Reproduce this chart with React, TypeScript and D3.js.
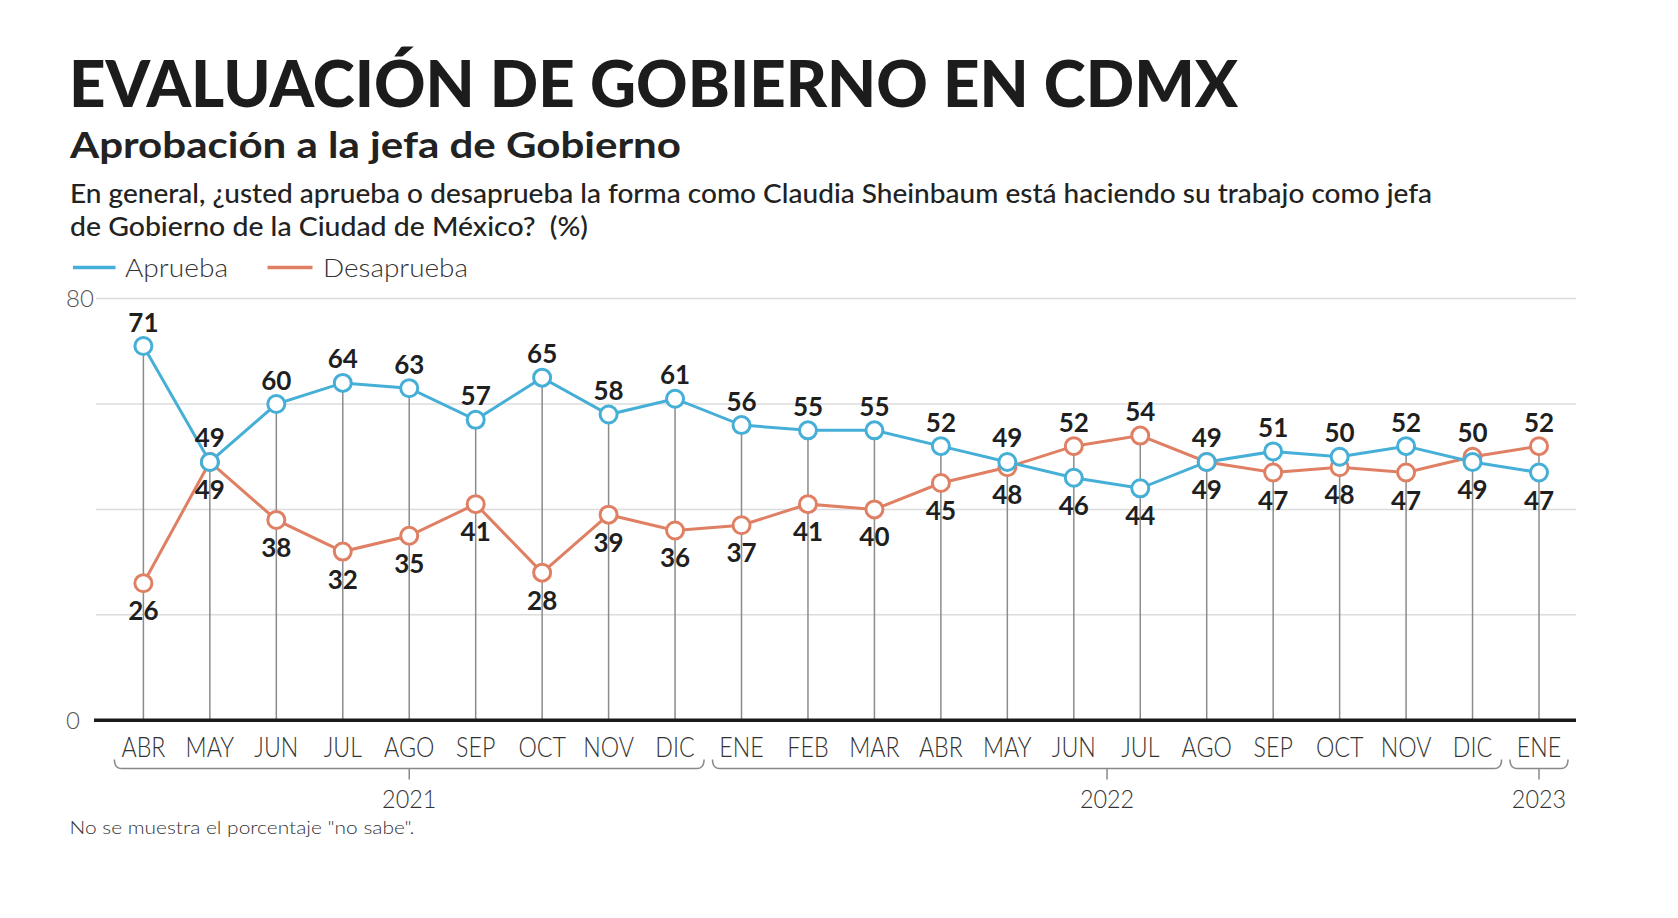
import React from "react";
import * as d3 from "d3";

const months = ["ABR","MAY","JUN","JUL","AGO","SEP","OCT","NOV","DIC","ENE","FEB","MAR","ABR","MAY","JUN","JUL","AGO","SEP","OCT","NOV","DIC","ENE"];
const aprueba = [71,49,60,64,63,57,65,58,61,56,55,55,52,49,46,44,49,51,50,52,49,47];
const desaprueba = [26,49,38,32,35,41,28,39,36,37,41,40,45,48,52,54,49,47,48,47,50,52];
const yearLabels = ["2021","2022","2023"];
const yearMonthCounts = [9,12,1];
const yTicks = [0,20,40,60,80];
const yLabelTicks = [0,80];

const BLUE = "#45afd7";
const ORANGE = "#df8064";
const FONT = "Lato, 'Open Sans', sans-serif";

export default function App() {
  const W = 1678, H = 918;
  const x = d3.scalePoint<number>().domain(months.map((_, i) => i)).range([143.4, 1539]);
  const y = d3.scaleLinear().domain([0, 80]).range([720.2, 298.6]);
  const gridX0 = 96, gridX1 = 1576;

  const line = d3.line<number>().x((_, i) => x(i)!).y(d => y(d));

  const groups: { label: string; i0: number; i1: number }[] = [];
  let acc = 0;
  yearLabels.forEach((lab, k) => {
    groups.push({ label: lab, i0: acc, i1: acc + yearMonthCounts[k] - 1 });
    acc += yearMonthCounts[k];
  });

  const by = 768.5;
  const r = 8.5;

  return (
    <svg width={W} height={H} style={{ position: "absolute", left: 0, top: 0, background: "#fff" }} fontFamily={FONT}>
      <rect x={0} y={0} width={W} height={H} fill="#fff" />
      <text x={69} y={107} fontSize={64} fontWeight={900} fill="#1c1c1c" textLength={1169} lengthAdjust="spacingAndGlyphs">EVALUACIÓN DE GOBIERNO EN CDMX</text>
      <text x={70} y={158} fontSize={37} fontWeight={700} fill="#222" textLength={611} lengthAdjust="spacingAndGlyphs">Aprobación a la jefa de Gobierno</text>
      <text x={70} y={203} fontSize={26} fontWeight={500} fill="#222" textLength={1362} lengthAdjust="spacingAndGlyphs">En general, ¿usted aprueba o desaprueba la forma como Claudia Sheinbaum está haciendo su trabajo como jefa</text>
      <text x={70} y={235.5} fontSize={26} fontWeight={500} fill="#222" textLength={518} lengthAdjust="spacingAndGlyphs" style={{ whiteSpace: "pre" }}>de Gobierno de la Ciudad de México?  (%)</text>

      <line x1={73} x2={115.5} y1={267.5} y2={267.5} stroke={BLUE} strokeWidth={3.5} />
      <text x={125} y={276.5} fontSize={25} fontWeight={300} fill="#333" textLength={103} lengthAdjust="spacingAndGlyphs">Aprueba</text>
      <line x1={267.5} x2={312.5} y1={267.5} y2={267.5} stroke={ORANGE} strokeWidth={3.5} />
      <text x={323} y={276.5} fontSize={25} fontWeight={300} fill="#333" textLength={145} lengthAdjust="spacingAndGlyphs">Desaprueba</text>

      {yTicks.filter(t => t > 0).map(t => (
        <line key={t} x1={gridX0} x2={gridX1} y1={y(t)} y2={y(t)} stroke="#dcdcdc" strokeWidth={1.5} />
      ))}
      {yLabelTicks.map(t => (
        <text key={t} x={66} y={y(t) + 8.5} fontSize={24} fontWeight={300} fill="#555" textAnchor="start">{t}</text>
      ))}

      {months.map((_, i) => (
        <line key={i} x1={x(i)} x2={x(i)} y1={y(Math.max(aprueba[i], desaprueba[i]))} y2={y(0)} stroke="#8c8c8c" strokeWidth={1.5} />
      ))}

      <line x1={94} x2={gridX1} y1={y(0)} y2={y(0)} stroke="#1a1a1a" strokeWidth={3.5} />

      <path d={line(desaprueba)!} fill="none" stroke={ORANGE} strokeWidth={3} />
      <path d={line(aprueba)!} fill="none" stroke={BLUE} strokeWidth={3} />
      {desaprueba.map((v, i) => (
        <circle key={"o" + i} cx={x(i)} cy={y(v)} r={r} fill="#fff" stroke={ORANGE} strokeWidth={3} />
      ))}
      {aprueba.map((v, i) => (
        <circle key={"b" + i} cx={x(i)} cy={y(v)} r={r} fill="#fff" stroke={BLUE} strokeWidth={3} />
      ))}

      {months.map((_, i) => {
        const a = aprueba[i], d = desaprueba[i];
        const hi = Math.max(a, d), lo = Math.min(a, d);
        return (
          <g key={"l" + i} fontSize={26} fontWeight={700} fill="#1f1f1f" textAnchor="middle">
            <text x={x(i)} y={y(hi) - 14.5}>{hi}</text>
            <text x={x(i)} y={y(lo) + 37}>{lo}</text>
          </g>
        );
      })}

      {months.map((m, i) => (
        <text key={"m" + i} transform={`translate(${x(i)},756.5) scale(0.86,1)`} fontSize={27} fontWeight={300} fill="#333" textAnchor="middle">{m}</text>
      ))}

      {groups.map(g => {
        const x1 = x(g.i0)! - 29;
        const x2 = x(g.i1)! + 29;
        const cx = (x(g.i0)! + x(g.i1)!) / 2;
        const p = `M${x1},${by - 9} Q${x1},${by} ${x1 + 7},${by} L${x2 - 7},${by} Q${x2},${by} ${x2},${by - 9}`;
        return (
          <g key={g.label}>
            <path d={p} fill="none" stroke="#888" strokeWidth={1.5} />
            <line x1={cx} x2={cx} y1={by} y2={by + 11} stroke="#888" strokeWidth={1.5} />
            <text transform={`translate(${cx},808) scale(0.9,1)`} fontSize={26} fontWeight={300} fill="#333" textAnchor="middle">{g.label}</text>
          </g>
        );
      })}

      <text x={69.5} y={833.5} fontSize={18} fontWeight={300} fill="#333" textLength={345} lengthAdjust="spacingAndGlyphs">No se muestra el porcentaje "no sabe".</text>
    </svg>
  );
}
